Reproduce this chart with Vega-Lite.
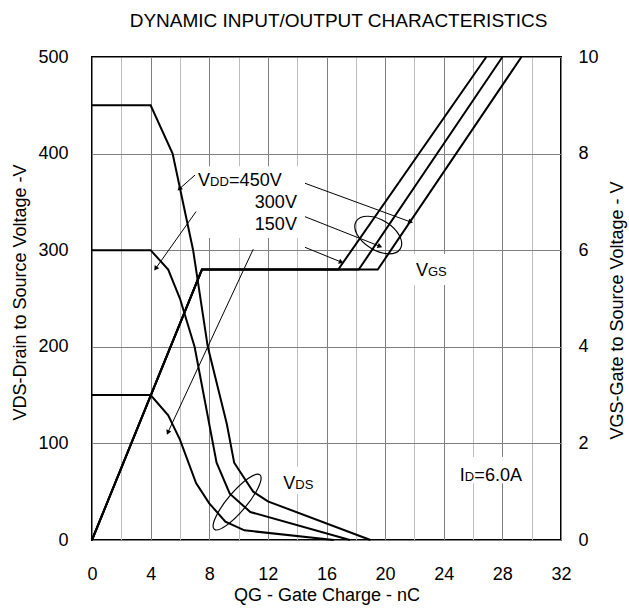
{
  "$schema": "https://vega.github.io/schema/vega-lite/v6.json",
  "width": 469,
  "height": 483,
  "autosize": "none",
  "padding": {"left": 92, "top": 57, "right": 68, "bottom": 69},
  "background": "white",
  "config": {
    "font": "Liberation Sans",
    "view": {"stroke": "black", "strokeWidth": 2},
    "axis": {"labelFont": "Liberation Sans", "titleFont": "Liberation Sans", "labelColor": "black", "titleColor": "black", "titleFontWeight": "normal", "labelFontSize": 18, "titleFontSize": 18, "domain": false, "ticks": false}
  },
  "title": {"text": "DYNAMIC INPUT/OUTPUT CHARACTERISTICS", "fontSize": 19, "font": "Liberation Sans", "fontWeight": "normal", "color": "black", "anchor": "middle", "frame": "group", "baseline": "alphabetic", "offset": 2, "dx": 12},
  "datasets": {
    "vds": [
      {"vdd": "450V", "q": 0, "v": 450}, {"vdd": "450V", "q": 4, "v": 450}, {"vdd": "450V", "q": 5.5, "v": 400}, {"vdd": "450V", "q": 6.9, "v": 300}, {"vdd": "450V", "q": 7.9, "v": 200}, {"vdd": "450V", "q": 9.2, "v": 120}, {"vdd": "450V", "q": 9.7, "v": 80}, {"vdd": "450V", "q": 11, "v": 50}, {"vdd": "450V", "q": 12, "v": 40}, {"vdd": "450V", "q": 19.0, "v": 0},
      {"vdd": "300V", "q": 0, "v": 300}, {"vdd": "300V", "q": 4, "v": 300}, {"vdd": "300V", "q": 5.2, "v": 280}, {"vdd": "300V", "q": 6.0, "v": 250}, {"vdd": "300V", "q": 7.0, "v": 200}, {"vdd": "300V", "q": 8.5, "v": 80}, {"vdd": "300V", "q": 9.4, "v": 48}, {"vdd": "300V", "q": 10.8, "v": 29}, {"vdd": "300V", "q": 17.6, "v": 0},
      {"vdd": "150V", "q": 0, "v": 150}, {"vdd": "150V", "q": 4, "v": 150}, {"vdd": "150V", "q": 5.2, "v": 129}, {"vdd": "150V", "q": 6.0, "v": 104}, {"vdd": "150V", "q": 7.1, "v": 59}, {"vdd": "150V", "q": 8.0, "v": 38}, {"vdd": "150V", "q": 9.1, "v": 19}, {"vdd": "150V", "q": 10.4, "v": 10}, {"vdd": "150V", "q": 16.5, "v": 0}
    ],
    "vgs": [
      {"vdd": "150V", "q": 0, "vgs": 0}, {"vdd": "150V", "q": 7.5, "vgs": 5.6}, {"vdd": "150V", "q": 16.8, "vgs": 5.6}, {"vdd": "150V", "q": 26.9, "vgs": 10},
      {"vdd": "300V", "q": 0, "vgs": 0}, {"vdd": "300V", "q": 7.5, "vgs": 5.6}, {"vdd": "300V", "q": 18.2, "vgs": 5.6}, {"vdd": "300V", "q": 28.0, "vgs": 10},
      {"vdd": "450V", "q": 0, "vgs": 0}, {"vdd": "450V", "q": 7.5, "vgs": 5.6}, {"vdd": "450V", "q": 19.5, "vgs": 5.6}, {"vdd": "450V", "q": 29.3, "vgs": 10}
    ],
    "arrows": [
      {"id": "d450", "q": 7.03, "v": 377.8, "q2": 6.0, "v2": 364},
      {"id": "d300", "q": 7.1, "v": 340, "q2": 4.37, "v2": 281.6},
      {"id": "d150", "q": 11.0, "v": 301, "q2": 5.2, "v2": 112},
      {"id": "g450", "q": 14.53, "v": 369.3, "q2": 21.69, "v2": 329.5},
      {"id": "g300", "q": 14.53, "v": 334.7, "q2": 19.6, "v2": 304.3},
      {"id": "g150", "q": 14.53, "v": 303, "q2": 16.96, "v2": 288}
    ],
    "boxes": [
      {"q": 7.03, "q2": 14.53, "v": 312.6, "v2": 387},
      {"q": 21.7, "q2": 24.5, "v": 264, "v2": 296},
      {"q": 12.8, "q2": 15.5, "v": 48, "v2": 76},
      {"q": 24.8, "q2": 29.9, "v": 58.7, "v2": 86}
    ],
    "ellipses": [
      {"id": "VGS", "q": 19.53, "v": 315.7},
      {"id": "VDS", "q": 9.9, "v": 39.3}
    ],
    "labels": [
      {"part": "base", "t": "V", "q": 7.24, "v": 366.7},
      {"part": "sub", "t": "DD", "q": 7.24, "v": 366.7},
      {"part": "tail", "t": "=450V", "q": 7.24, "v": 366.7},
      {"part": "right", "t": "300V", "q": 13.98, "v": 343.2},
      {"part": "right", "t": "150V", "q": 13.98, "v": 320.4},
      {"part": "base", "t": "V", "q": 22.1, "v": 272.8},
      {"part": "sub", "t": "GS", "q": 22.1, "v": 272.8},
      {"part": "base", "t": "V", "q": 13.05, "v": 52.6},
      {"part": "sub", "t": "DS", "q": 13.05, "v": 52.6},
      {"part": "base", "t": "I", "q": 25.1, "v": 61.3},
      {"part": "subI", "t": "D", "q": 25.1, "v": 61.3},
      {"part": "tailI", "t": "=6.0A", "q": 25.1, "v": 61.3}
    ]
  },
  "encoding": {
    "x": {
      "field": "q", "type": "quantitative",
      "scale": {"domain": [0, 32], "nice": false, "zero": false},
      "axis": {
        "values": [0, 2, 4, 6, 8, 10, 12, 14, 16, 18, 20, 22, 24, 26, 28, 30, 32],
        "labelExpr": "datum.value % 4 === 0 ? datum.label : ''",
        "labelFlush": false, "labelOverlap": false, "labelPadding": 25,
        "grid": true,
        "gridColor": {"condition": {"test": "datum.value % 4 === 0", "value": "#7f7f7f"}, "value": "#bdbdbd"},
        "gridWidth": 1,
        "title": "QG - Gate Charge - nC",
        "titleBaseline": "middle", "titleY": 55
      }
    }
  },
  "layer": [
    {
      "encoding": {
        "y": {
          "field": "v", "type": "quantitative",
          "scale": {"domain": [0, 500], "nice": false},
          "axis": {
            "values": [0, 100, 200, 300, 400, 500],
            "grid": true, "gridColor": "#7f7f7f", "gridWidth": 1,
            "labelPadding": 24,
            "title": "VDS-Drain to Source Voltage -V",
            "titleAngle": 270, "titleAlign": "center", "titleBaseline": "middle",
            "titleX": -72, "titleY": 235
          }
        }
      },
      "layer": [
        {"data": {"name": "boxes"}, "mark": {"type": "rect", "fill": "white", "stroke": null}, "encoding": {"x2": {"field": "q2"}, "y2": {"field": "v2"}}},
        {"data": {"name": "vds"}, "mark": {"type": "line", "color": "black", "strokeWidth": 2}, "encoding": {"detail": {"field": "vdd"}}},
        {"data": {"name": "arrows"}, "mark": {"type": "rule", "color": "black", "strokeWidth": 1}, "encoding": {"x2": {"field": "q2"}, "y2": {"field": "v2"}}},
        {"data": {"name": "arrows"}, "transform": [{"filter": "datum.id === 'd450'"}], "mark": {"type": "point", "shape": "triangle", "filled": true, "color": "black", "size": 30, "angle": 228, "opacity": 1}, "encoding": {"x": {"field": "q2", "type": "quantitative"}, "y": {"field": "v2", "type": "quantitative"}}},
        {"data": {"name": "arrows"}, "transform": [{"filter": "datum.id === 'd300'"}], "mark": {"type": "point", "shape": "triangle", "filled": true, "color": "black", "size": 30, "angle": 215, "opacity": 1}, "encoding": {"x": {"field": "q2", "type": "quantitative"}, "y": {"field": "v2", "type": "quantitative"}}},
        {"data": {"name": "arrows"}, "transform": [{"filter": "datum.id === 'd150'"}], "mark": {"type": "point", "shape": "triangle", "filled": true, "color": "black", "size": 30, "angle": 205, "opacity": 1}, "encoding": {"x": {"field": "q2", "type": "quantitative"}, "y": {"field": "v2", "type": "quantitative"}}},
        {"data": {"name": "arrows"}, "transform": [{"filter": "datum.id[0] === 'g'"}], "mark": {"type": "point", "shape": "triangle", "filled": true, "color": "black", "size": 30, "angle": 111, "opacity": 1}, "encoding": {"x": {"field": "q2", "type": "quantitative"}, "y": {"field": "v2", "type": "quantitative"}}},
        {"data": {"name": "ellipses"}, "transform": [{"filter": "datum.id === 'VGS'"}], "mark": {"type": "point", "shape": "M-1,0C-1,-0.32,-0.552,-0.58,0,-0.58C0.552,-0.58,1,-0.32,1,0C1,0.32,0.552,0.58,0,0.58C-0.552,0.58,-1,0.32,-1,0Z", "filled": false, "stroke": "black", "strokeWidth": 1.2, "size": 2704, "angle": 32, "opacity": 1}},
        {"data": {"name": "ellipses"}, "transform": [{"filter": "datum.id === 'VDS'"}], "mark": {"type": "point", "shape": "M-1,0C-1,-0.149,-0.552,-0.27,0,-0.27C0.552,-0.27,1,-0.149,1,0C1,0.149,0.552,0.27,0,0.27C-0.552,0.27,-1,0.149,-1,0Z", "filled": false, "stroke": "black", "strokeWidth": 1.2, "size": 5041, "angle": -50, "opacity": 1}},
        {"data": {"name": "labels"}, "transform": [{"filter": "datum.part === 'base'"}], "mark": {"type": "text", "align": "left", "baseline": "alphabetic", "fontSize": 18, "color": "black"}, "encoding": {"text": {"field": "t"}}},
        {"data": {"name": "labels"}, "transform": [{"filter": "datum.part === 'sub'"}], "mark": {"type": "text", "align": "left", "baseline": "alphabetic", "fontSize": 13, "dx": 12, "color": "black"}, "encoding": {"text": {"field": "t"}}},
        {"data": {"name": "labels"}, "transform": [{"filter": "datum.part === 'tail'"}], "mark": {"type": "text", "align": "left", "baseline": "alphabetic", "fontSize": 18, "dx": 31, "color": "black"}, "encoding": {"text": {"field": "t"}}},
        {"data": {"name": "labels"}, "transform": [{"filter": "datum.part === 'right'"}], "mark": {"type": "text", "align": "right", "baseline": "alphabetic", "fontSize": 18, "color": "black"}, "encoding": {"text": {"field": "t"}}},
        {"data": {"name": "labels"}, "transform": [{"filter": "datum.part === 'subI'"}], "mark": {"type": "text", "align": "left", "baseline": "alphabetic", "fontSize": 13, "dx": 5, "color": "black"}, "encoding": {"text": {"field": "t"}}},
        {"data": {"name": "labels"}, "transform": [{"filter": "datum.part === 'tailI'"}], "mark": {"type": "text", "align": "left", "baseline": "alphabetic", "fontSize": 18, "dx": 14.5, "color": "black"}, "encoding": {"text": {"field": "t"}}}
      ]
    },
    {
      "data": {"name": "vgs"},
      "mark": {"type": "line", "color": "black", "strokeWidth": 2},
      "encoding": {
        "detail": {"field": "vdd"},
        "y": {
          "field": "vgs", "type": "quantitative",
          "scale": {"domain": [0, 10], "nice": false},
          "axis": {
            "orient": "right",
            "values": [0, 2, 4, 6, 8, 10],
            "grid": false,
            "labelPadding": 17,
            "title": "VGS-Gate to Source Voltage - V",
            "titleAngle": 270, "titleAlign": "center", "titleBaseline": "middle",
            "titleX": 56, "titleY": 253
          }
        }
      }
    }
  ],
  "resolve": {"scale": {"y": "independent"}}
}
